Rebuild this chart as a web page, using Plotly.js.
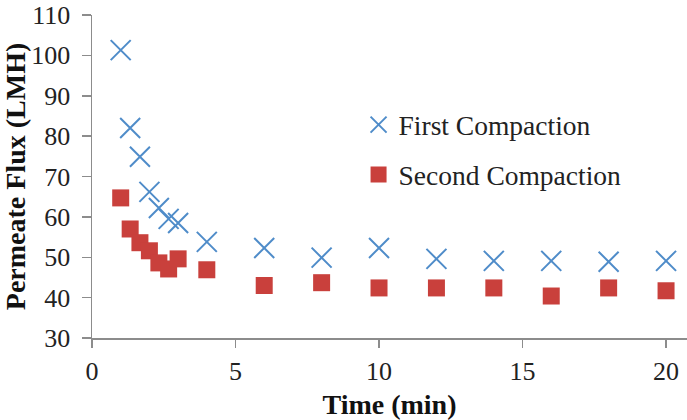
<!DOCTYPE html>
<html>
<head>
<meta charset="utf-8">
<script src="https://cdn.plot.ly/plotly-3.0.1.min.js"></script>
<style>html,body{margin:0;padding:0;background:#fff;}#chart{width:687px;height:420px;}</style>
</head>
<body>
<div id="chart"></div>
<script>
// Data
var time = [1, 1.33, 1.67, 2, 2.33, 2.67, 3, 4, 6, 8, 10, 12, 14, 16, 18, 20];
var firstCompaction = [101.3, 82.0, 74.9, 66.2, 62.2, 59.5, 58.5, 53.8, 52.3, 49.9, 52.3, 49.6, 49.1, 49.1, 48.9, 49.1];
var secondCompaction = [64.7, 57.0, 53.6, 51.6, 48.6, 47.1, 49.6, 46.9, 43.0, 43.7, 42.4, 42.4, 42.4, 40.4, 42.4, 41.7];
var seriesNames = ['First Compaction', 'Second Compaction'];
var xTicks = [0, 5, 10, 15, 20];
var yTicks = [30, 40, 50, 60, 70, 80, 90, 100, 110];

var serif = "'Liberation Serif', 'Times New Roman', serif";
var axisGray = '#8c8c8c';

var traces = [
  {
    x: time, y: firstCompaction, name: seriesNames[0], type: 'scatter', mode: 'markers',
    legendgroup: 'a',
    marker: {symbol: 'x-thin-open', size: 20, color: '#4f8cc9', line: {width: 2, color: '#4f8cc9'}}
  },
  {
    x: time, y: secondCompaction, name: seriesNames[1], type: 'scatter', mode: 'markers',
    legendgroup: 'b',
    marker: {symbol: 'square', size: 17, color: '#c9403c', line: {width: 0}}
  }
];

var layout = {
  width: 687, height: 420,
  margin: {l: 92, r: 0, t: 15, b: 82},
  paper_bgcolor: '#fff', plot_bgcolor: '#fff',
  font: {family: serif, color: '#222', size: 26},
  showlegend: true,
  legend: {
    x: 0.448, xanchor: 'left', y: 0.736, yanchor: 'top',
    font: {family: serif, size: 27.5, color: '#222'},
    bgcolor: 'rgba(0,0,0,0)', borderwidth: 0,
    traceorder: 'grouped', tracegroupgap: 11, itemwidth: 30
  },
  xaxis: {
    range: [0, 20.73], tickvals: xTicks, ticktext: xTicks.map(String),
    showgrid: false, zeroline: false, showline: true, linecolor: axisGray, linewidth: 1.5,
    ticks: 'outside', ticklen: 8, tickwidth: 1.5, tickcolor: axisGray,
    tickfont: {family: serif, size: 26, color: '#222'},
    ticklabelstandoff: 1,
    title: {text: 'Time (min)', font: {family: serif, size: 28, color: '#111', weight: 'bold'}, standoff: 15}
  },
  yaxis: {
    range: [30, 110], tickvals: yTicks, ticktext: yTicks.map(String),
    showgrid: false, zeroline: false, showline: true, linecolor: axisGray, linewidth: 1.5,
    ticks: 'outside', ticklen: 9, tickwidth: 1.5, tickcolor: axisGray,
    tickfont: {family: serif, size: 26, color: '#222'},
    ticklabelstandoff: 6,
    title: {text: 'Permeate Flux (LMH)', font: {family: serif, size: 28, color: '#111', weight: 'bold'}, standoff: 6}
  }
};

Plotly.newPlot('chart', traces, layout, {displayModeBar: false, staticPlot: true});
</script>
</body>
</html>
